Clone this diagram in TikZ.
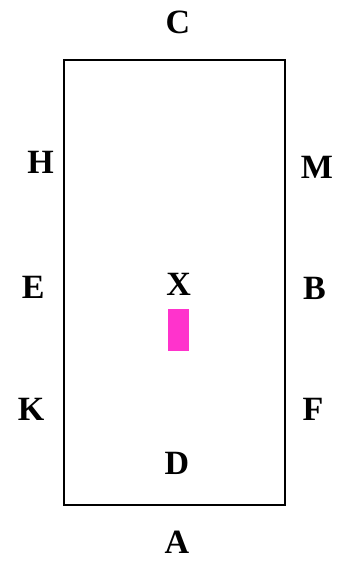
\documentclass[tikz,border=0pt]{standalone}
\usepackage{fontspec}
\setmainfont{Liberation Serif}
\definecolor{padpink}{RGB}{255,51,204}
\begin{document}
\begin{tikzpicture}[x=1pt,y=-1pt,
  lbl/.style={inner sep=0pt,font=\fontsize{34}{34}\selectfont\bfseries}]
\useasboundingbox (0,0) rectangle (340,562);
\draw[line width=2.8pt] (64,60) rectangle (285,505);
\fill[padpink] (168.3,309.3) rectangle (189.3,351);
\node[lbl] (C) at (178,22.5) {C};
\node[lbl] (H) at (40.5,162.8) {H};
\node[lbl] (M) at (317,167.5) {M};
\node[lbl] (E) at (33.3,287) {E};
\node[lbl] (X) at (178.7,284.7) {X};
\node[lbl] (B) at (314.5,288.7) {B};
\node[lbl] (K) at (31,409.5) {K};
\node[lbl] (F) at (313,409.5) {F};
\node[lbl] (D) at (177,463.8) {D};
\node[lbl] (A) at (177,542.5) {A};
\end{tikzpicture}
\end{document}
